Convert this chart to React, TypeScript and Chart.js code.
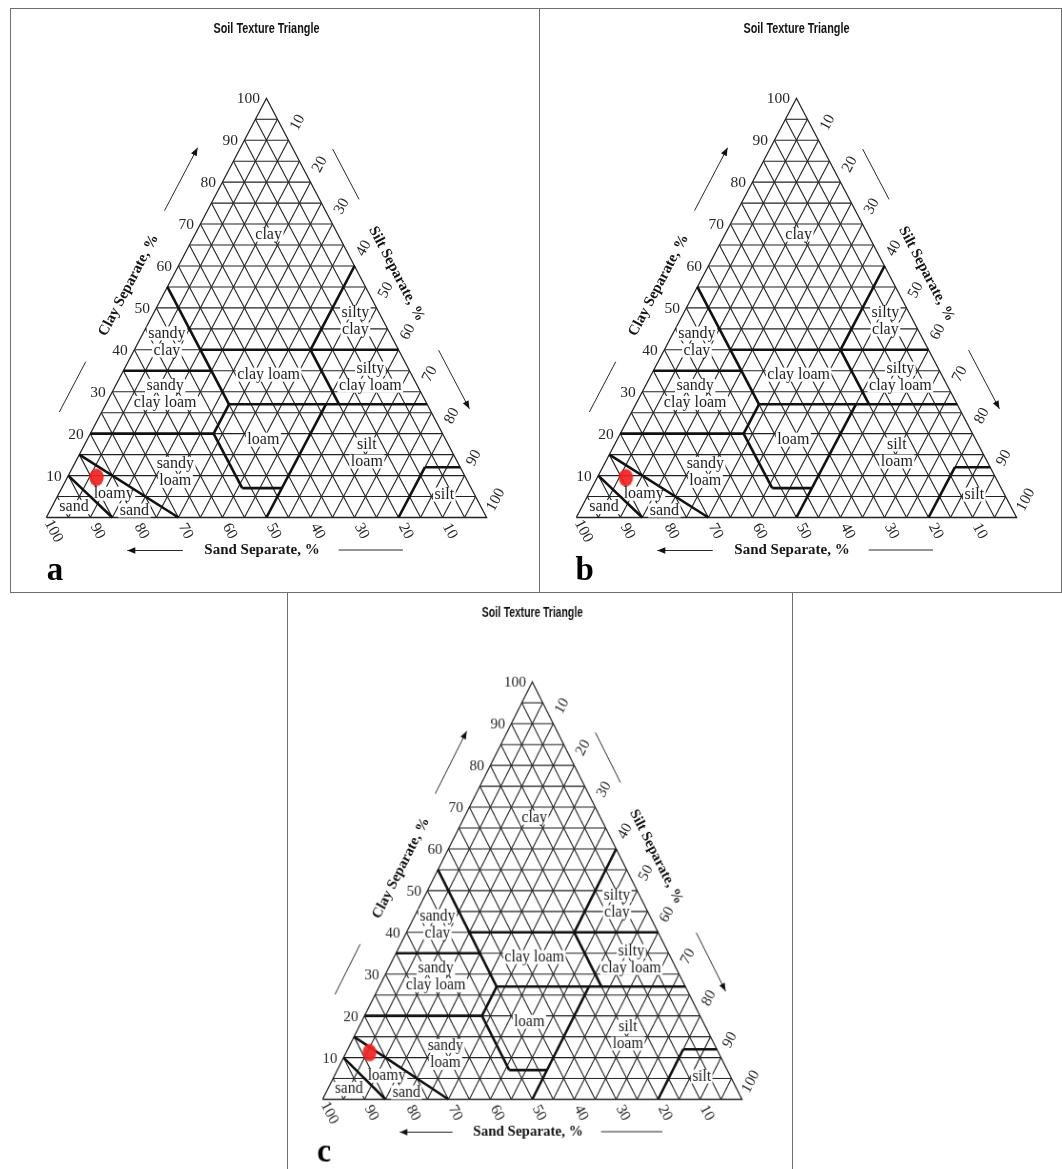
import React, { useEffect, useRef } from 'react';
import { Chart, registerables } from 'chart.js';

Chart.register(...registerables);

// ---------- data ----------
const GRID_PERCENTS = [5, 10, 15, 20, 25, 30, 35, 40, 45, 50, 55, 60, 65, 70, 75, 80, 85, 90, 95];
const TICK_VALUES = [10, 20, 30, 40, 50, 60, 70, 80, 90, 100];
const TICK_LABELS = ['10', '20', '30', '40', '50', '60', '70', '80', '90', '100'];

// USDA texture class boundaries, each vertex as [sand, silt, clay] in %
const BOUNDARIES: number[][][] = [
  [[85, 15, 0], [90, 0, 10]],
  [[70, 30, 0], [85, 0, 15]],
  [[80, 0, 20], [52, 28, 20]],
  [[52, 28, 20], [52, 41, 7]],
  [[52, 41, 7], [43, 50, 7]],
  [[50, 50, 0], [23, 50, 27]],
  [[52, 28, 20], [45, 28, 27]],
  [[45, 28, 27], [0, 73, 27]],
  [[45, 28, 27], [45, 0, 55]],
  [[65, 0, 35], [45, 20, 35]],
  [[45, 15, 40], [0, 60, 40]],
  [[20, 53, 27], [20, 40, 40]],
  [[20, 40, 40], [0, 40, 60]],
  [[20, 80, 0], [8, 80, 12]],
  [[8, 80, 12], [0, 88, 12]],
];

// texture class names and where they sit (silt %, clay %)
const CLASS_TEXTS: string[][] = [
  ['clay'], ['sandy', 'clay'], ['silty', 'clay'], ['clay loam'], ['silty', 'clay loam'],
  ['sandy', 'clay loam'], ['loam'], ['silt', 'loam'], ['sandy', 'loam'], ['loamy'], ['sand'], ['sand'], ['silt'],
];
const CLASS_SILT = [16.7, 6.4, 46.7, 33.4, 56.8, 12.25, 39.95, 65.05, 23.85, 12.4, 19.1, 5.0, 87.6];
const CLASS_CLAY = [67.6, 42.0, 47.0, 34.2, 33.6, 29.5, 18.7, 15.5, 10.9, 5.8, 1.8, 2.6, 5.6];

// measured soil sample for each panel
const PANEL_LETTERS = ['a', 'b', 'c'];
const SAMPLE_SAND = [83.8, 84.0, 83.2];
const SAMPLE_SILT = [6.6, 6.5, 5.6];
const SAMPLE_CLAY = [9.6, 9.5, 11.2];

const TITLE = 'Soil Texture Triangle';
const CLAY_TITLE = 'Clay Separate, %';
const SILT_TITLE = 'Silt Separate, %';
const SAND_TITLE = 'Sand Separate, %';

// ---------- helpers ----------
const toXY = (sand: number, silt: number, clay: number) => ({ x: silt + clay / 2, y: clay });

const SERIF = "'Liberation Serif', 'Times New Roman', Times, serif";
const CANVAS_W = 529;
const CANVAS_H = 584;

let dotCanvas: HTMLCanvasElement | null = null;
function getDot() {
  if (dotCanvas) return dotCanvas;
  const c = document.createElement('canvas');
  c.width = 17;
  c.height = 20;
  const g = c.getContext('2d')!;
  g.fillStyle = 'rgba(238, 36, 36, 0.93)';
  g.beginPath();
  g.ellipse(8.5, 10, 7.2, 8.8, 0, 0, Math.PI * 2);
  g.fill();
  dotCanvas = c;
  return c;
}

function arrow(ctx: CanvasRenderingContext2D, x1: number, y1: number, x2: number, y2: number, head: boolean) {
  ctx.beginPath();
  ctx.moveTo(x1, y1);
  ctx.lineTo(x2, y2);
  ctx.stroke();
  if (head) {
    const a = Math.atan2(y2 - y1, x2 - x1);
    const L = 8, hw = 3.2;
    ctx.beginPath();
    ctx.moveTo(x2, y2);
    ctx.lineTo(x2 - L * Math.cos(a) + hw * Math.sin(a), y2 - L * Math.sin(a) - hw * Math.cos(a));
    ctx.lineTo(x2 - L * Math.cos(a) - hw * Math.sin(a), y2 - L * Math.sin(a) + hw * Math.cos(a));
    ctx.closePath();
    ctx.fill();
  }
}

const CLASS_FONT = `16px ${SERIF}`;
const LINE_GAP = 17;

function classLinePositions(chart: any) {
  const xs = chart.scales.x, ys = chart.scales.y;
  const out: { text: string; x: number; y: number }[] = [];
  CLASS_TEXTS.forEach((lines, i) => {
    const p = toXY(100 - CLASS_SILT[i] - CLASS_CLAY[i], CLASS_SILT[i], CLASS_CLAY[i]);
    const cx = xs.getPixelForValue(p.x);
    const cy = ys.getPixelForValue(p.y);
    lines.forEach((t, j) => {
      out.push({ text: t, x: cx, y: cy + (j - (lines.length - 1) / 2) * LINE_GAP });
    });
  });
  return out;
}

const decorPlugin = {
  id: 'ternaryDecor',
  beforeDatasetsDraw(chart: any) {
    chart.$bgDone = false;
  },
  beforeDatasetDraw(chart: any, args: any) {
    const ds: any = chart.data.datasets[args.index];
    if (ds.kind === 'boundary' && !chart.$bgDone) {
      chart.$bgDone = true;
      const ctx: CanvasRenderingContext2D = chart.ctx;
      ctx.save();
      ctx.font = CLASS_FONT;
      ctx.fillStyle = '#ffffff';
      classLinePositions(chart).forEach((l) => {
        const w = ctx.measureText(l.text).width;
        ctx.fillRect(l.x - w / 2 - 1.5, l.y - 6.5, w + 3, 14);
      });
      ctx.restore();
    }
  },
  afterDatasetsDraw(chart: any) {
    const ctx: CanvasRenderingContext2D = chart.ctx;
    const xs = chart.scales.x, ys = chart.scales.y;
    const { left, right, top, bottom } = chart.chartArea;
    const W = right - left, H = bottom - top;
    const len = Math.hypot(W / 2, H);
    const u = { x: W / 2 / len, y: -H / len };
    const dn = { x: W / 2 / len, y: H / len };
    const nL = { x: -H / len, y: -W / 2 / len };
    const nR = { x: H / len, y: -W / 2 / len };
    const ang = Math.atan2(H, W / 2);
    const P = (sand: number, silt: number, clay: number) => {
      const q = toXY(sand, silt, clay);
      return { x: xs.getPixelForValue(q.x), y: ys.getPixelForValue(q.y) };
    };
    const leftEdge = (c: number) => P(100 - c, 0, c);
    const rightEdge = (c: number) => P(0, 100 - c, c);
    const letter = chart.options.plugins.ternaryDecor.letter;
    const letterDx = chart.options.plugins.ternaryDecor.letterDx;

    ctx.save();
    // class labels
    ctx.font = CLASS_FONT;
    ctx.fillStyle = '#1e1e1e';
    ctx.textAlign = 'center';
    ctx.textBaseline = 'middle';
    classLinePositions(chart).forEach((l) => ctx.fillText(l.text, l.x, l.y + 0.5));

    // tick labels
    ctx.font = `15.5px ${SERIF}`;
    ctx.fillStyle = '#262626';
    TICK_VALUES.forEach((v, i) => {
      const lab = TICK_LABELS[i];
      // clay (left)
      const pc = leftEdge(v);
      ctx.textAlign = 'right';
      ctx.textBaseline = 'middle';
      ctx.fillText(lab, pc.x - 6.5, pc.y + 1);
      // sand (bottom)
      const ps = P(v, 100 - v, 0);
      ctx.save();
      ctx.translate(ps.x + dn.x * 15.5, ps.y + dn.y * 15.5);
      ctx.rotate(ang);
      ctx.textAlign = 'center';
      ctx.fillText(lab, 0, 0);
      ctx.restore();
      // silt (right)
      const pt = rightEdge(100 - v);
      ctx.save();
      ctx.translate(pt.x + u.x * 20, pt.y + u.y * 20);
      ctx.rotate(-ang);
      ctx.textAlign = 'center';
      ctx.fillText(lab, 0, 0);
      ctx.restore();
    });

    // axis titles
    ctx.font = `bold 15px ${SERIF}`;
    ctx.fillStyle = '#141414';
    ctx.textAlign = 'center';
    ctx.textBaseline = 'middle';
    const ct = leftEdge(51.5);
    ctx.save();
    ctx.translate(ct.x + nL.x * 35, ct.y + nL.y * 35);
    ctx.rotate(-ang);
    ctx.fillText(CLAY_TITLE, 0, 0);
    ctx.restore();
    const st = rightEdge(54.4);
    ctx.save();
    ctx.translate(st.x + nR.x * 33.6, st.y + nR.y * 33.6);
    ctx.rotate(ang);
    ctx.fillText(SILT_TITLE, 0, 0);
    ctx.restore();
    ctx.fillText(SAND_TITLE, xs.getPixelForValue(49), bottom + 32.5);

    // arrows and guide lines
    ctx.strokeStyle = '#2a2a2a';
    ctx.fillStyle = '#111';
    ctx.lineWidth = 1;
    const off = (p: { x: number; y: number }, n: { x: number; y: number }, d: number) => ({ x: p.x + n.x * d, y: p.y + n.y * d });
    let a1 = off(leftEdge(69), nL, 38), a2 = off(leftEdge(84), nL, 38);
    arrow(ctx, a1.x, a1.y, a2.x, a2.y, true);
    a1 = off(leftEdge(21), nL, 37.5); a2 = off(leftEdge(33), nL, 37.5);
    arrow(ctx, a1.x, a1.y, a2.x, a2.y, false);
    a1 = off(rightEdge(84), nR, 35); a2 = off(rightEdge(72), nR, 35);
    arrow(ctx, a1.x, a1.y, a2.x, a2.y, false);
    a1 = off(rightEdge(36), nR, 35.3); a2 = off(rightEdge(22), nR, 35.3);
    arrow(ctx, a1.x, a1.y, a2.x, a2.y, true);
    arrow(ctx, xs.getPixelForValue(31), bottom + 33, xs.getPixelForValue(18.4), bottom + 33, true);
    arrow(ctx, xs.getPixelForValue(66.4), bottom + 32.5, xs.getPixelForValue(81), bottom + 32.5, false);

    // chart title (narrow bold sans)
    ctx.font = "bold 14px 'Liberation Sans Narrow', 'Arial Narrow', 'Liberation Sans', Arial, sans-serif";
    ctx.fillStyle = '#111';
    const tw = ctx.measureText(TITLE).width;
    ctx.save();
    ctx.translate(xs.getPixelForValue(50), top - 69);
    ctx.scale(Math.min(1, 106 / tw), 1);
    ctx.textAlign = 'center';
    ctx.fillText(TITLE, 0, 0);
    ctx.restore();

    // panel letter
    ctx.font = `bold 33px ${SERIF}`;
    ctx.fillStyle = '#000';
    ctx.textAlign = 'left';
    ctx.textBaseline = 'alphabetic';
    ctx.fillText(letter, left + letterDx, bottom + 62.5);
    ctx.restore();
  },
};

function buildDatasets(i: number) {
  const ds: any[] = [];
  ds.push({
    label: 'sample',
    data: [toXY(SAMPLE_SAND[i], SAMPLE_SILT[i], SAMPLE_CLAY[i])],
    pointStyle: getDot(),
    pointRadius: 8,
    showLine: false,
    order: 0,
    clip: false,
  });
  BOUNDARIES.forEach((b) =>
    ds.push({
      kind: 'boundary',
      data: b.map((p) => toXY(p[0], p[1], p[2])),
      showLine: true,
      borderColor: '#111111',
      borderWidth: 2.6,
      pointRadius: 0,
      order: 1,
      clip: false,
    })
  );
  const gridStyle = { kind: 'grid', showLine: true, borderColor: '#222222', borderWidth: 1.1, pointRadius: 0, order: 2, clip: false };
  ds.push({ ...gridStyle, borderWidth: 1.3, data: [toXY(100, 0, 0), toXY(0, 100, 0), toXY(0, 0, 100), toXY(100, 0, 0)] });
  GRID_PERCENTS.forEach((p) => {
    ds.push({ ...gridStyle, data: [toXY(100 - p, 0, p), toXY(0, 100 - p, p)] });
    ds.push({ ...gridStyle, data: [toXY(p, 100 - p, 0), toXY(p, 0, 100 - p)] });
    ds.push({ ...gridStyle, data: [toXY(100 - p, p, 0), toXY(0, p, 100 - p)] });
  });
  return ds;
}

function Panel(props: { index: number; left: number; top: number; sx: number; sy: number; letterDx: number }) {
  const ref = useRef<HTMLCanvasElement>(null);
  useEffect(() => {
    const chart = new Chart(ref.current as HTMLCanvasElement, {
      type: 'scatter',
      data: { datasets: buildDatasets(props.index) },
      options: {
        animation: false,
        responsive: false,
        maintainAspectRatio: false,
        devicePixelRatio: 1,
        events: [],
        layout: { padding: { left: 36.3, right: CANVAS_W - 476.6, top: 90.3, bottom: CANVAS_H - 509.5 } },
        scales: {
          x: { type: 'linear', min: 0, max: 100, display: false },
          y: { type: 'linear', min: 0, max: 100, display: false },
        },
        elements: { line: { tension: 0 } },
        plugins: {
          legend: { display: false },
          tooltip: { enabled: false },
          title: { display: false },
          ternaryDecor: { letter: PANEL_LETTERS[props.index], letterDx: props.letterDx },
        } as any,
      },
      plugins: [decorPlugin as any],
    });
    return () => chart.destroy();
  }, []);
  return (
    <div
      style={{
        position: 'absolute',
        left: props.left,
        top: props.top,
        width: CANVAS_W,
        height: CANVAS_H,
        transform: `scale(${props.sx}, ${props.sy})`,
        transformOrigin: '0 0',
      }}
    >
      <canvas ref={ref} width={CANVAS_W} height={CANVAS_H} style={{ display: 'block', width: CANVAS_W, height: CANVAS_H }} />
    </div>
  );
}

const BORDER = '1px solid #6e6e6e';

export default function App() {
  return (
    <div
      style={{
        position: 'absolute',
        left: 0,
        top: 0,
        width: 1062,
        height: 1169,
        overflow: 'hidden',
        background: '#fff',
      }}
    >
      <div style={{ position: 'absolute', left: 10, top: 8, width: 530, height: 585, border: BORDER, boxSizing: 'border-box' }} />
      <div style={{ position: 'absolute', left: 539, top: 8, width: 523, height: 585, border: BORDER, boxSizing: 'border-box' }} />
      <div style={{ position: 'absolute', left: 287, top: 592, width: 506, height: 600, border: BORDER, boxSizing: 'border-box' }} />
      <Panel index={0} left={10} top={8} sx={1} sy={1} letterDx={0.4} />
      <Panel index={1} left={540.2} top={8} sx={1} sy={1} letterDx={-0.7} />
      <Panel index={2} left={287.7} top={591.8} sx={0.9525} sy={0.9957} letterDx={-5.9} />
    </div>
  );
}
